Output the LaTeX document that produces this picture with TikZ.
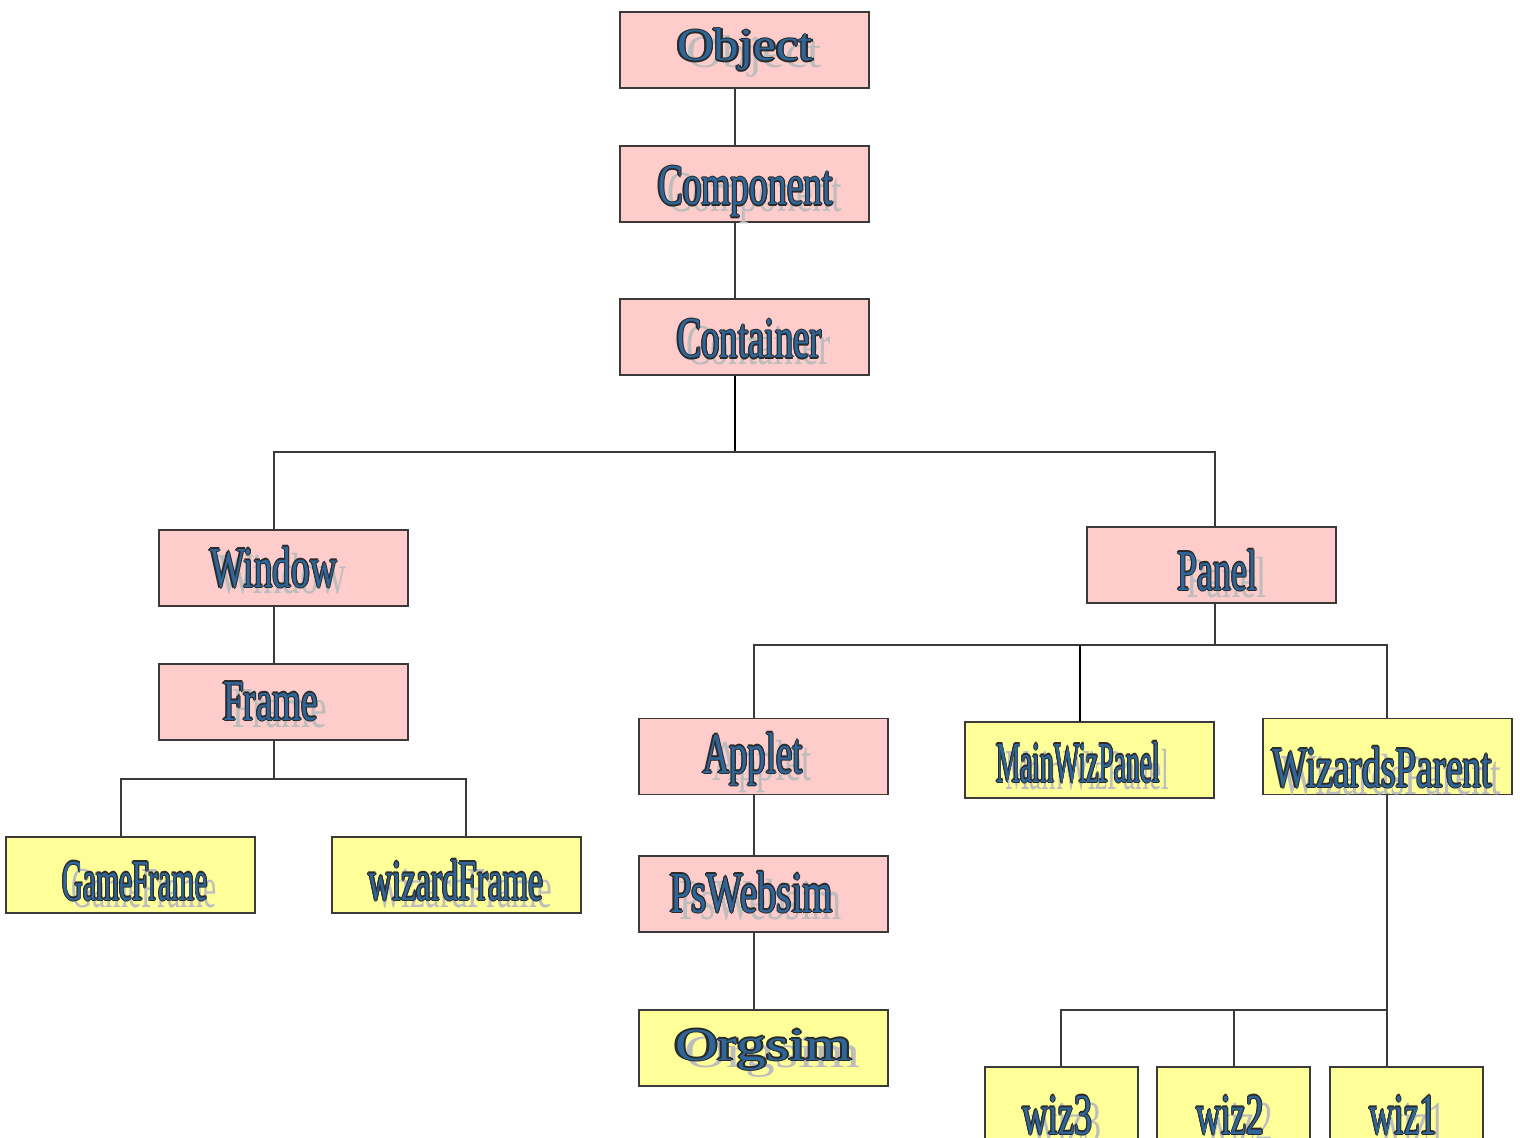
\documentclass[tikz,border=0pt]{standalone}
\usepackage{fontspec}
\setmainfont{Liberation Serif}
\usepackage{graphicx}
\definecolor{pinkfill}{HTML}{FFCCCC}
\definecolor{yelfill}{HTML}{FFFF99}
\definecolor{bordc}{HTML}{3A3A3A}
\definecolor{tblue}{HTML}{2F6699}
\definecolor{odark}{HTML}{2A2A2A}
\definecolor{shadowc}{HTML}{BDBDBD}
\newcommand\myoutlined[1]{%
 \rlap{\color{odark}\kern0.8pt #1}%
 \rlap{\color{odark}\kern-0.8pt #1}%
 \rlap{\color{odark}\raisebox{0.55pt}{#1}}%
 \rlap{\color{odark}\raisebox{-0.55pt}{#1}}%
 \rlap{\color{odark}\kern0.56pt\raisebox{0.4pt}{#1}}%
 \rlap{\color{odark}\kern-0.56pt\raisebox{0.4pt}{#1}}%
 \rlap{\color{odark}\kern0.56pt\raisebox{-0.4pt}{#1}}%
 \rlap{\color{odark}\kern-0.56pt\raisebox{-0.4pt}{#1}}%
 {\color{tblue}#1}}
\newcommand\mylbl[3]{\fontsize{#1}{#1}\selectfont
 \rlap{\kern4.5pt\raisebox{-3.5pt}{\resizebox{#2}{\height}{\color{shadowc}#3}}}%
 \resizebox{#2}{\height}{\myoutlined{#3}}}
\begin{document}
\begin{tikzpicture}[x=0.5pt,y=-0.5pt,
  box/.style={draw=bordc,line width=0.9pt,rectangle,inner sep=0pt,
    minimum width=124.5pt,minimum height=38pt},
  pinkbox/.style={box,fill=pinkfill},
  yelbox/.style={box,fill=yelfill},
  smallbox/.style={yelbox,minimum width=76.5pt},
  txt/.style={inner sep=0pt,anchor=base},
  conn/.style={draw=bordc,line width=0.8pt},
  thickconn/.style={draw=black,line width=1.1pt}]
\useasboundingbox (0,0) rectangle (1520,1138);
% boxes
\node[pinkbox] (obj) at (744.5,50) {};
\node[pinkbox] (comp) at (744.5,184) {};
\node[pinkbox] (cont) at (744.5,337) {};
\node[pinkbox] (win) at (283.5,568) {};
\node[pinkbox] (pan) at (1211.5,565) {};
\node[pinkbox] (frm) at (283.5,702) {};
\node[yelbox] (gfr) at (130.5,875) {};
\node[yelbox] (wfr) at (456.5,875) {};
\node[pinkbox] (app) at (763.5,756.5) {};
\node[yelbox] (mwp) at (1089.5,760) {};
\node[yelbox] (wpar) at (1387.5,756.5) {};
\node[pinkbox] (psw) at (763.5,894) {};
\node[yelbox] (org) at (763.5,1048) {};
\node[smallbox] (wizc) at (1061.5,1105) {};
\node[smallbox] (wizb) at (1233.5,1105) {};
\node[smallbox] (wiza) at (1406.5,1105) {};
% junctions
\coordinate (j1) at (735,452);
\coordinate (j2) at (274,779);
\coordinate (j3) at (1215,645);
\coordinate (j4) at (1387,1010);
% connectors
\draw[conn] (735,0 |- obj.south) -- (735,0 |- comp.north);
\draw[conn] (735,0 |- comp.south) -- (735,0 |- cont.north);
\draw[thickconn] (735,0 |- cont.south) -- (j1);
\draw[conn] (274,0 |- win.north) |- (j1) -| (1215,0 |- pan.north);
\draw[conn] (274,0 |- win.south) -- (274,0 |- frm.north);
\draw[conn] (274,0 |- frm.south) -- (j2);
\draw[conn] (121,0 |- gfr.north) |- (j2) -| (466,0 |- wfr.north);
\draw[conn] (1215,0 |- pan.south) -- (j3);
\draw[conn] (754,0 |- app.north) |- (j3) -| (1387,0 |- wpar.north);
\draw[thickconn] (1080,0 |- mwp.north) -- (1080,0 |- j3);
\draw[conn] (754,0 |- app.south) -- (754,0 |- psw.north);
\draw[conn] (754,0 |- psw.south) -- (754,0 |- org.north);
\draw[conn] (1387,0 |- wpar.south) -- (j4);
\draw[conn] (1061,0 |- wizc.north) |- (j4);
\draw[conn] (1234,0 |- wizb.north) -- (1234,0 |- j4);
\draw[conn] (1387,0 |- wiza.north) -- (j4);
% labels
\node[txt] (objt) at (745,61) {\mylbl{23pt}{68pt}{Object}};
\node[txt] (compt) at (745.5,205) {\mylbl{29pt}{87.5pt}{Component}};
\node[txt] (contt) at (749.5,358) {\mylbl{29pt}{72.5pt}{Container}};
\node[txt] (wint) at (273.5,587) {\mylbl{29pt}{63.5pt}{Window}};
\node[txt] (pant) at (1217,590) {\mylbl{29pt}{40pt}{Panel}};
\node[txt] (frmt) at (270.5,720) {\mylbl{29pt}{47.5pt}{Frame}};
\node[txt] (gfrt) at (135,900) {\mylbl{29pt}{73pt}{GameFrame}};
\node[txt] (wfrt) at (456,900) {\mylbl{29pt}{87.5pt}{wizardFrame}};
\node[txt] (appt) at (753,773) {\mylbl{29pt}{50pt}{Applet}};
\node[txt] (mwpt) at (1078,782) {\mylbl{29pt}{82pt}{MainWizPanel}};
\node[txt] (wpart) at (1382,787) {\mylbl{29pt}{110pt}{WizardsParent}};
\node[txt] (pswt) at (751.5,912) {\mylbl{29pt}{81.5pt}{PsWebsim}};
\node[txt] (orgt) at (763.5,1060) {\mylbl{23pt}{88.5pt}{Orgsim}};
\node[txt] (wizct) at (1057,1134) {\mylbl{29pt}{35pt}{wiz3}};
\node[txt] (wizbt) at (1230,1134) {\mylbl{29pt}{34pt}{wiz2}};
\node[txt] (wizat) at (1403,1134) {\mylbl{29pt}{34pt}{wiz1}};
\end{tikzpicture}
\end{document}
